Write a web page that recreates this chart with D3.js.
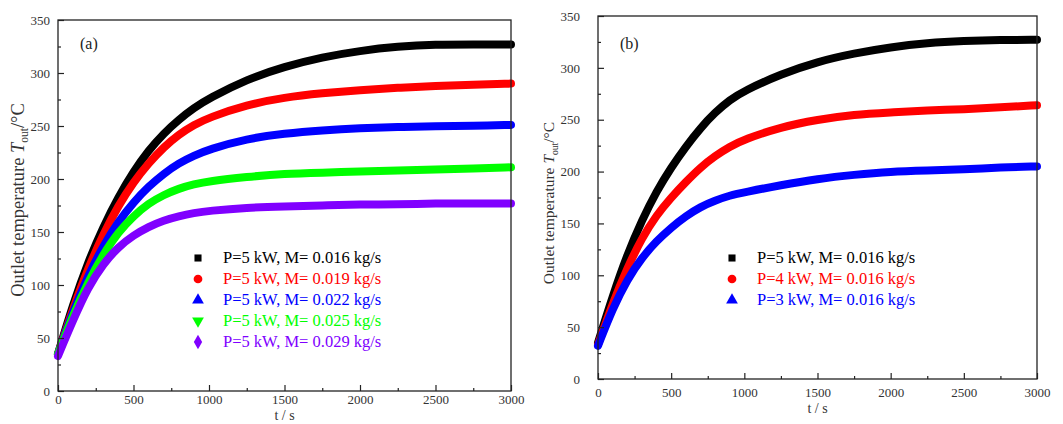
<!DOCTYPE html>
<html>
<head>
<meta charset="utf-8">
<script src="https://cdn.jsdelivr.net/npm/d3@7/dist/d3.min.js"></script>
<style>
  body { margin: 0; background: #fff; }
  svg { display: block; font-family: "Liberation Serif", "Times New Roman", serif; }
</style>
</head>
<body>
<div id="chart"></div>
<script>
// Time samples (s), shared by every curve
const times = [0, 100, 200, 300, 400, 500, 600, 700, 800, 900, 1000, 1250, 1500, 1750, 2000, 2250, 2500, 2750, 3000];

// Panel (a): P = 5 kW, different mass flow rates
const a016 = [35, 82, 122, 155, 183, 207, 227, 243, 256, 267, 276, 294, 306, 315, 321, 325, 327, 327, 327];
const a019 = [35, 78, 116, 148, 175, 197, 215, 230, 242, 251, 258, 270, 277, 281, 284, 286, 288, 289, 290];
const a022 = [35, 75, 109, 137, 160, 178, 193, 205, 215, 222, 228, 238, 243, 246, 248, 249, 250, 250, 251];
const a025 = [35, 72, 103, 129, 150, 165, 177, 185, 191, 195, 198, 202, 205, 206, 207, 208, 209, 210, 211];
const a029 = [33, 67, 98, 120, 136, 147, 155, 161, 165, 168, 170, 173, 174, 175, 176, 176, 177, 177, 177];

// Panel (b): M = 0.016 kg/s, different heating powers
const b5kw = [35, 80, 120, 153, 181, 204, 224, 242, 257, 269, 278, 294, 306, 314, 320, 324, 326, 327, 327];
const b4kw = [33, 73, 107, 136, 158, 175, 190, 204, 215, 224, 231, 243, 250, 255, 257, 259, 260, 262, 264];
const b3kw = [32, 68, 96, 117, 133, 146, 157, 166, 172, 177, 180, 187, 193, 197, 200, 201, 202, 204, 205];

const labelsA = ["P=5 kW, M= 0.016 kg/s", "P=5 kW, M= 0.019 kg/s", "P=5 kW, M= 0.022 kg/s",
                 "P=5 kW, M= 0.025 kg/s", "P=5 kW, M= 0.029 kg/s"];
const labelsB = ["P=5 kW, M= 0.016 kg/s", "P=4 kW, M= 0.016 kg/s", "P=3 kW, M= 0.016 kg/s"];

const xTicks = [0, 500, 1000, 1500, 2000, 2500, 3000];
const yTicks = [0, 50, 100, 150, 200, 250, 300, 350];

const colors = ["#000000", "#ff0000", "#0000ff", "#00ff00", "#8000ff"];
const symbols = [d3.symbolSquare, d3.symbolCircle, d3.symbolTriangle, d3.symbolTriangle, d3.symbolDiamond];

const FONT = "'Liberation Serif', 'Times New Roman', serif";

const svg = d3.select("#chart").append("svg").attr("width", 1063).attr("height", 424);

/**
 * Draw one panel
 */
function drawPanel(p) {
    const x = d3.scaleLinear().domain([0, 3000]).range([p.left, p.right]);
    const y = d3.scaleLinear().domain([0, 350]).range([p.bottom, p.top]);
    const g = svg.append("g");

    // curves
    const line = d3.line().x((d, i) => x(times[i])).y(d => y(d)).curve(d3.curveBasis);
    p.series.forEach((s, i) => {
        g.append("path").datum(s)
            .attr("d", line)
            .attr("fill", "none")
            .attr("stroke", colors[i])
            .attr("stroke-width", 8)
            .attr("stroke-linecap", "round");
    });

    // frame
    g.append("rect")
        .attr("x", p.left).attr("y", p.top)
        .attr("width", p.right - p.left).attr("height", p.bottom - p.top)
        .attr("fill", "none").attr("stroke", "#222").attr("stroke-width", 1.3);

    // x axis ticks (inward)
    const xAxis = d3.axisBottom(x).tickValues(xTicks).tickSize(-6).tickPadding(p.xPad).tickFormat(d3.format("d"));
    const gx = g.append("g").attr("transform", `translate(0,${p.bottom})`).call(xAxis);
    gx.select(".domain").remove();
    g.append("g").attr("transform", `translate(0,${p.bottom})`)
        .call(d3.axisBottom(x).tickValues(d3.range(250, 3000, 500)).tickSize(-3).tickFormat(""))
        .select(".domain").remove();

    // y axis ticks (inward)
    const yAxis = d3.axisLeft(y).tickValues(yTicks).tickSize(-6).tickPadding(p.yPad);
    const gy = g.append("g").attr("transform", `translate(${p.left},0)`).call(yAxis);
    gy.select(".domain").remove();
    g.append("g").attr("transform", `translate(${p.left},0)`)
        .call(d3.axisLeft(y).tickValues(d3.range(25, 350, 50)).tickSize(-3).tickFormat(""))
        .select(".domain").remove();

    g.selectAll(".tick line").attr("stroke", "#222").attr("stroke-width", 1.2);
    g.selectAll(".tick text").style("font-family", FONT).style("font-size", "13px").attr("fill", "#333");

    // axis titles
    g.append("text")
        .attr("x", (p.left + p.right) / 2).attr("y", p.bottom + p.xTitleGap)
        .attr("text-anchor", "middle").attr("font-size", 14).attr("fill", "#333")
        .text("t / s");

    const yt = g.append("text")
        .attr("transform", `translate(${p.yTitleX},${p.yTitleY}) rotate(-90)`)
        .attr("text-anchor", "middle").attr("font-size", p.yTitleSize).attr("fill", "#333");
    yt.append("tspan").text("Outlet temperature ");
    yt.append("tspan").attr("font-style", "italic").text("T");
    yt.append("tspan").attr("font-size", p.yTitleSize * 0.62).attr("dy", 4).text("out");
    yt.append("tspan").attr("dy", -4).text("/°C");

    // panel label
    g.append("text").attr("x", p.left + 22).attr("y", 49)
        .attr("font-size", 16).attr("fill", "#222").text(p.tag);

    // legend
    p.labels.forEach((lab, i) => {
        const ly = p.legY + i * 21;
        const sym = d3.symbol().type(symbols[i]).size(i === 0 ? 50 : 60);
        g.append("path").attr("d", sym)
            .attr("transform", `translate(${p.legX},${ly})` + (i === 3 ? " rotate(180)" : ""))
            .attr("fill", colors[i]);
        g.append("text").attr("x", p.legX + 25).attr("y", ly + 5)
            .attr("font-size", 16.5).attr("fill", colors[i]).text(lab);
    });
}

drawPanel({
    left: 58, right: 511, top: 20, bottom: 391,
    series: [a016, a019, a022, a025, a029], labels: labelsA,
    legX: 198, legY: 258, tag: "(a)", yPad: 8, xPad: 4,
    xTitleGap: 29, yTitleX: 24, yTitleY: 200, yTitleSize: 18.5
});

drawPanel({
    left: 598, right: 1037, top: 16, bottom: 379,
    series: [b5kw, b4kw, b3kw], labels: labelsB,
    legX: 732, legY: 258, tag: "(b)", yPad: 18, xPad: 9,
    xTitleGap: 34, yTitleX: 554, yTitleY: 203, yTitleSize: 15.5
});
</script>
</body>
</html>
